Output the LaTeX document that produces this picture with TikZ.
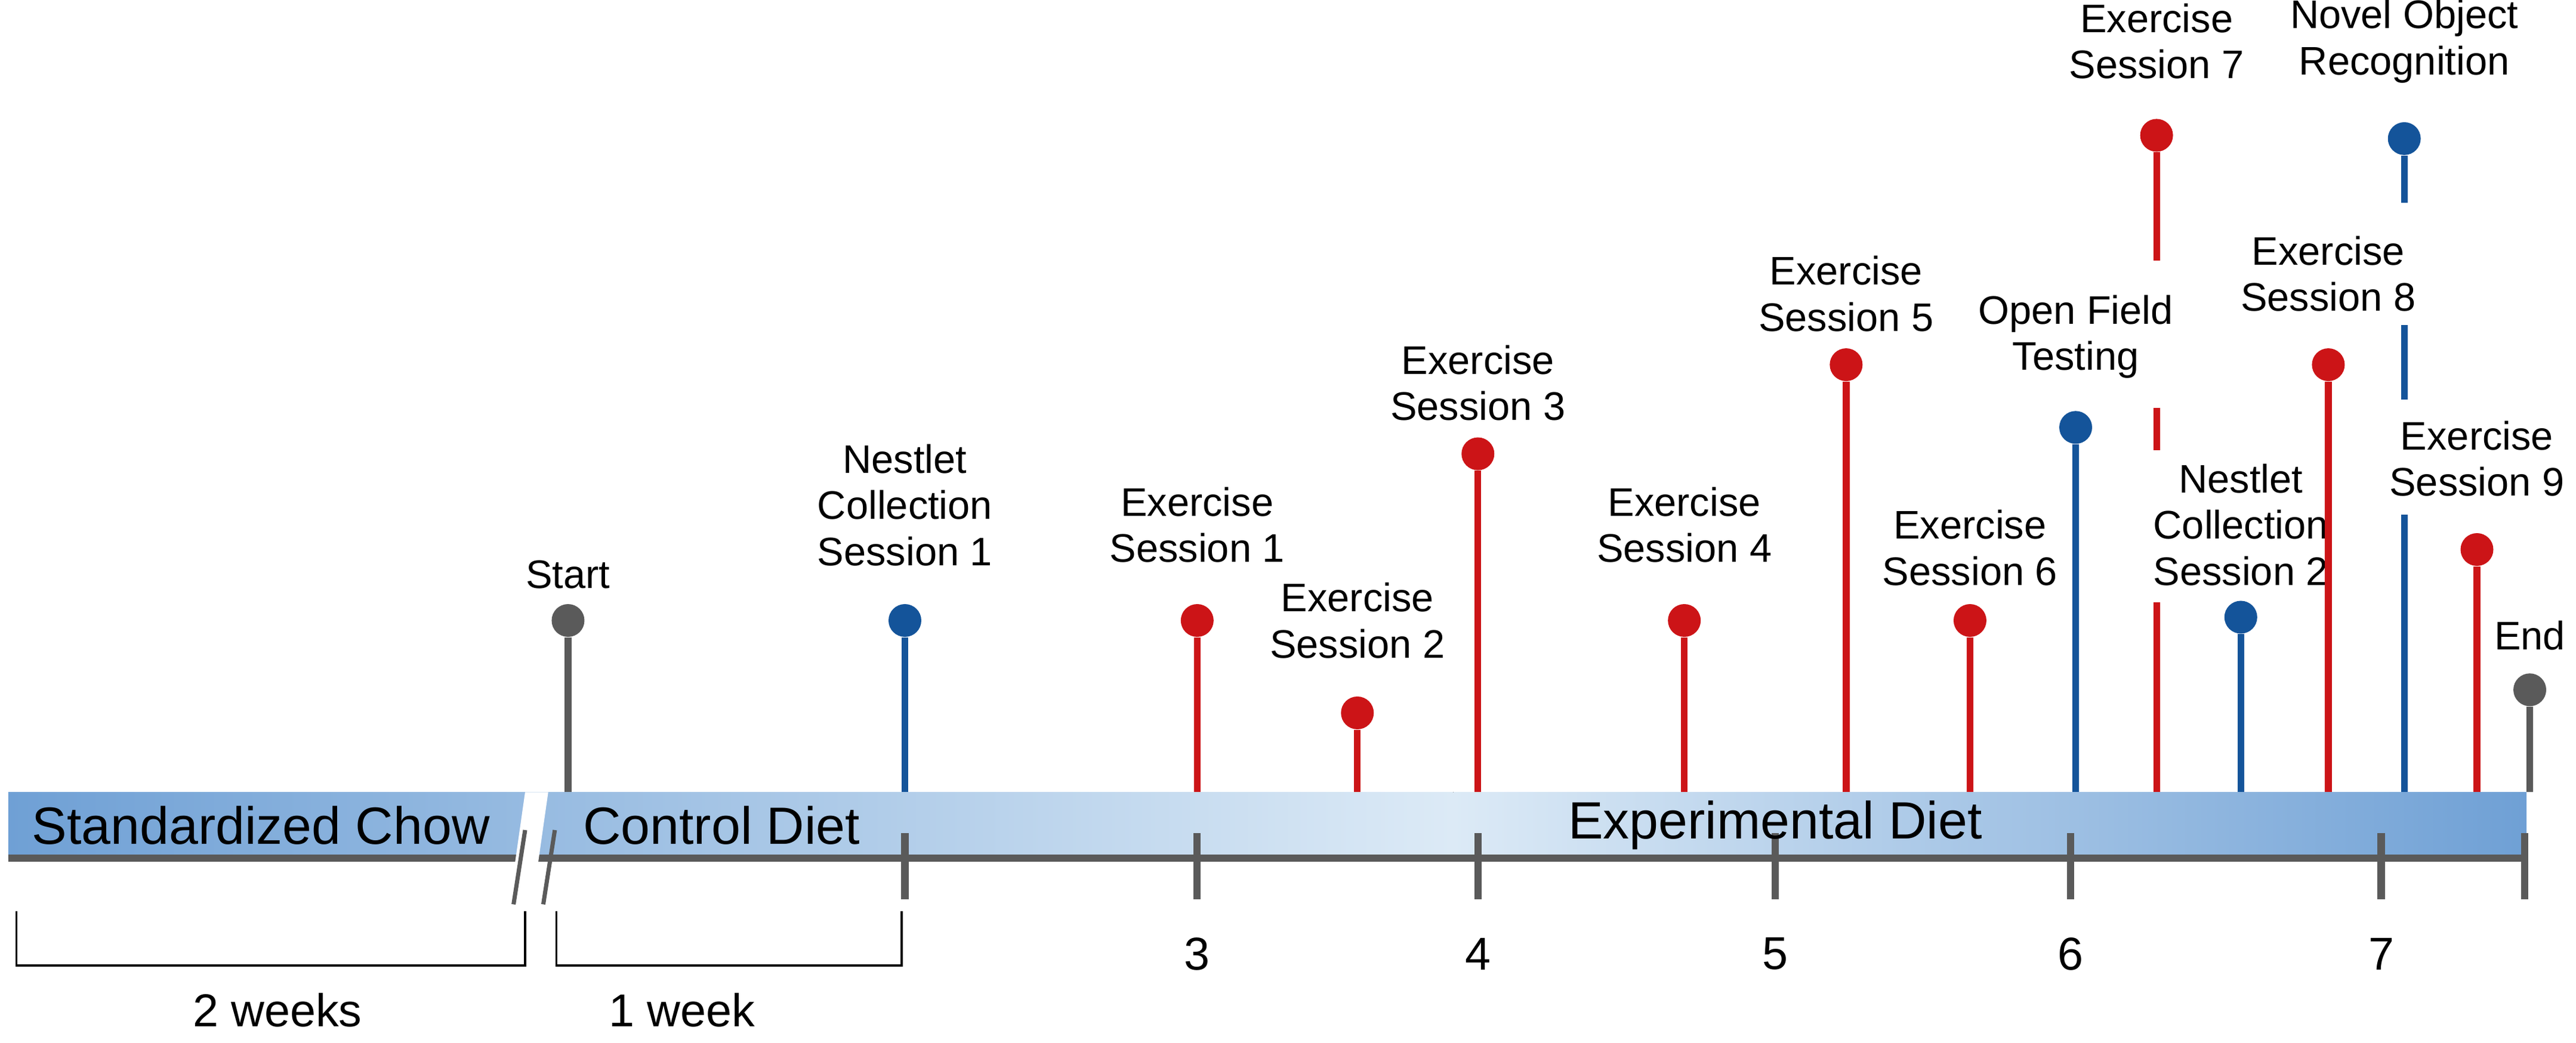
\documentclass[tikz,border=0pt]{standalone}
\usepackage{fontspec}
\setmainfont{Liberation Sans}
\definecolor{pred}{HTML}{CC1417}
\definecolor{pblue}{HTML}{14549A}
\definecolor{pgray}{HTML}{5A5A5A}
\definecolor{bdark}{HTML}{6FA0D5}
\definecolor{blight}{HTML}{DCEAF6}
\begin{document}
\begin{tikzpicture}[x=0.02767cm,y=-0.02767cm,
  dot/.style={circle,inner sep=0pt,minimum size=0.55cm},
  stem/.style={line width=3.2pt},
  lab/.style={align=center,font=\fontsize{19}{22}\selectfont},
  barlab/.style={font=\fontsize{25}{28}\selectfont},
  axis/.style={pgray,line width=3.5pt},
  brk/.style={black,line width=1pt}]
\useasboundingbox (0,0) rectangle (1560,632);
% bar
\fill[left color=bdark,right color=blight] (5,480) rectangle (880,520);
\fill[left color=blight,right color=bdark] (880,480) rectangle (1530,520);
\draw[axis] (5,520) -- (1530,520);
\foreach \x in {548,725,895,1075,1254,1442,1529}{\draw[axis] (\x,505) -- (\x,545);}
\fill[white] (318,480) -- (332,480) -- (322,550) -- (308,550) -- cycle;
\draw[pgray,line width=2pt] (318,503) -- (311,548) (336,503) -- (329,548);
\node[barlab] (t1) at (158,500) {Standardized Chow};
\node[barlab] (t2) at (437,500) {Control Diet};
\node[barlab] (t3) at (1075,500) {Experimental Diet};
\foreach \n/\x in {3/725,4/895,5/1075,6/1254,7/1442}{\node[lab,font=\fontsize{22}{24}\selectfont] (n\n) at (\x,578) {\n};}
% brackets
\draw[brk] (10,552) -- (10,585) -- (318,585) -- (318,552);
\draw[brk] (337,552) -- (337,585) -- (546,585) -- (546,552);
\node[lab,font=\fontsize{22}{24}\selectfont] (w2) at (168,612) {2 weeks};
\node[lab,font=\fontsize{22}{24}\selectfont] (w1) at (413,612) {1 week};
% pins
\foreach \nm/\x/\y/\c/\ly/\t in {
  st/344/376/pgray/348/{Start},
  ne1/548/376/pblue/306/{Nestlet\\Collection\\Session 1},
  e1/725/376/pred/318/{Exercise\\Session 1},
  e2/822/432/pred/376/{Exercise\\Session 2},
  e3/895/275/pred/232/{Exercise\\Session 3},
  e4/1020/376/pred/318/{Exercise\\Session 4},
  e5/1118/221/pred/178/{Exercise\\Session 5},
  e6/1193/376/pred/332/{Exercise\\Session 6},
  of/1257/259/pblue/204/{Open Field\\Testing},
  ne2/1357/374/pblue/318/{Nestlet\\Collection\\Session 2},
  e8/1410/221/pred/166/{Exercise\\Session 8},
  e9/1500/333/pred/278/{Exercise\\Session 9},
  en/1532/418/pgray/385/{End}}{
  \node[dot,fill=\c] (\nm) at (\x,\y) {};
  \coordinate (\nm b) at (\x,480);
  \draw[stem,\c] (\nm) -- (\nm b);
  \node[lab] (\nm l) at (\x,\ly) {\t};
}
% interrupted stems
\node[dot,fill=pred] (e7) at (1306,82) {};
\node[lab] (e7l) at (1306,25) {Exercise\\Session 7};
\coordinate (e7a) at (1306,158); \coordinate (e7b) at (1306,247);
\coordinate (e7c) at (1306,273); \coordinate (e7d) at (1306,365);
\coordinate (e7e) at (1306,480);
\draw[stem,pred] (e7) -- (e7a) (e7b) -- (e7c) (e7d) -- (e7e);
\node[dot,fill=pblue] (no) at (1456,84) {};
\node[lab] (nol) at (1456,25) {Novel Object\\Recognition};
\coordinate (noa) at (1456,123); \coordinate (nob) at (1456,197);
\coordinate (noc) at (1456,242); \coordinate (nod) at (1456,312);
\coordinate (noe) at (1456,480);
\draw[stem,pblue] (no) -- (noa) (nob) -- (noc) (nod) -- (noe);
\end{tikzpicture}
\end{document}
